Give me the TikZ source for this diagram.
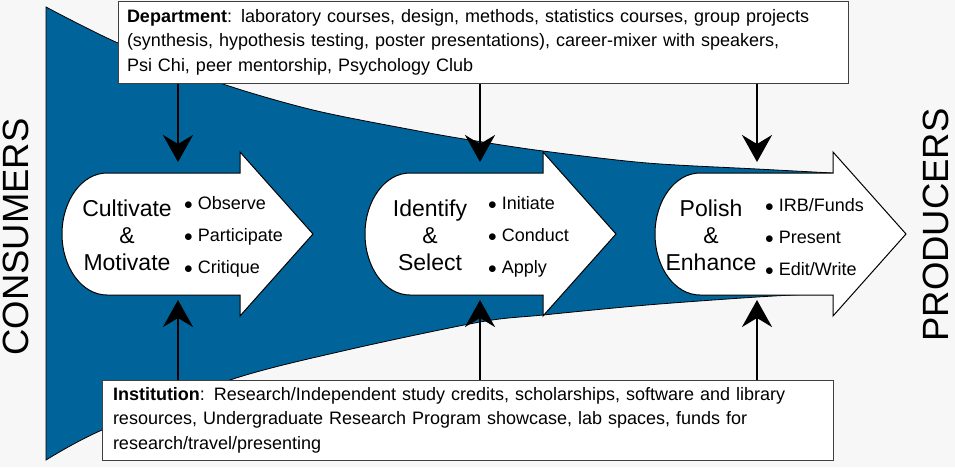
\documentclass[tikz,border=0pt]{standalone}
\usepackage{fontspec}
\setmainfont{Liberation Sans}
\usetikzlibrary{arrows.meta}

\definecolor{funnelblue}{RGB}{0,99,153}
\definecolor{paper}{RGB}{247,247,247}
\newcommand{\stepdot}{$\bullet$\ }

\tikzset{
  infobox/.style={draw=black!75, line width=1pt, fill=white, align=left, font=\fontsize{18}{24.5}\selectfont},
  stagearrow/.style={draw=black, line width=1pt, fill=white},
  stagelabel/.style={align=center, inner sep=0pt, font=\fontsize{23}{27}\selectfont},
  steplist/.style={anchor=west, align=left, inner sep=0pt, font=\fontsize{18}{32}\selectfont},
  feed/.style={line width=2.6pt, -{Stealth[length=27pt,width=30pt,inset=9pt]}},
  sidelabel/.style={rotate=90, inner sep=0pt, font=\fontsize{36.5}{40}\selectfont}
}

\begin{document}
\begin{tikzpicture}[x=1pt,y=-1pt]
\useasboundingbox (0,0) rectangle (955,467);
\fill[paper] (0,0) rectangle (955,467);
% funnel from consumers to producers
\draw[fill=funnelblue, line width=0.8pt] plot[smooth] coordinates {(46,7) (118,43) (220,83) (313,110) (413,130) (470,140) (543,151) (647,163) (757,169) (833,173)}
  -- plot[smooth] coordinates {(833,293) (757,297) (647,305) (543,315) (480,322) (347,350) (233,379) (102,430) (46,460)} -- cycle;
% three stage arrows
\foreach \xo in {62,365,655}
  \draw[stagearrow] (\xo+45,173) -- (\xo+178,173) -- (\xo+178,152) -- (\xo+251,234) -- (\xo+178,316) -- (\xo+178,295) -- (\xo+45,295)
    .. controls (\xo+20.1,295) and (\xo,267.7) .. (\xo,234) .. controls (\xo,200.3) and (\xo+20.1,173) .. (\xo+45,173) -- cycle;
\node[stagelabel] (cult) at (127,235) {Cultivate\\\&\\Motivate};
\node[steplist] (cultlist) at (184,237) {\stepdot Observe\\\stepdot Participate\\\stepdot Critique};
\node[stagelabel] (ident) at (430,235) {Identify\\\&\\Select};
\node[steplist] (identlist) at (488,237) {\stepdot Initiate\\\stepdot Conduct\\\stepdot Apply};
\node[stagelabel] (polish) at (711,235) {Polish\\\&\\Enhance};
\node[steplist] (polishlist) at (765,237) {\stepdot IRB/Funds\\\stepdot Present\\\stepdot Edit/Write};
% boxes
\node[infobox, text width=712pt, minimum height=82pt, inner xsep=9pt] (dept) at (483,42)
  {\textbf{Department}: laboratory courses, design, methods, statistics courses, group projects\\(synthesis, hypothesis testing, poster presentations), career-mixer with speakers,\\Psi Chi, peer mentorship, Psychology Club};
\node[infobox, text width=709pt, minimum height=80pt, inner xsep=11pt] (inst) at (467.5,420)
  {\textbf{Institution}: Research/Independent study credits, scholarships, software and library\\resources, Undergraduate Research Program showcase, lab spaces, funds for\\research/travel/presenting};
\foreach \i/\xa in {1/178,2/480,3/757} {
  \coordinate (down\i) at (\xa,162);
  \coordinate (up\i) at (\xa,300);
}
\foreach \i in {1,2,3} {
  \draw[feed] (dept.south -| down\i) -- (down\i);
  \draw[feed] (inst.north -| up\i) -- (up\i);
}
\node[sidelabel] (consumers) at (16,237) {CONSUMERS};
\node[sidelabel] (producers) at (936,225) {PRODUCERS};
\end{tikzpicture}
\end{document}
